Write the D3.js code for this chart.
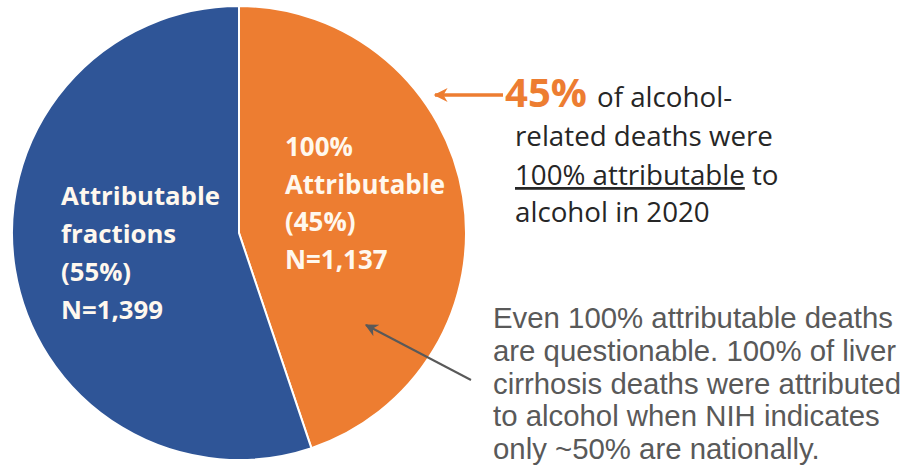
<!DOCTYPE html>
<html><head><meta charset="utf-8">
<script src="https://cdn.jsdelivr.net/npm/d3@7"></script>
<style>body{margin:0;background:#fff}svg{display:block}</style>
</head><body>
<svg id="c" width="901" height="471"></svg>
<script>
const categories = ["100% Attributable", "Attributable fractions"];
const counts = [1137, 1399];
const percents = [45, 55];
const colors = ["#ED7D31", "#2F5597"];
const sliceLabels = [
  ["100%", "Attributable", "(45%)", "N=1,137"],
  ["Attributable", "fractions", "(55%)", "N=1,399"]
];
const calloutLines = ["of alcohol-", "related deaths were", "100% attributable", "alcohol in 2020"];
const noteLines = [
  "Even 100% attributable deaths",
  "are questionable. 100% of liver",
  "cirrhosis deaths were attributed",
  "to alcohol when NIH indicates",
  "only ~50% are nationally."
];

const svg = d3.select("#c");
const CAL = "'Open Sans', Lato, sans-serif";
const ARIAL = "'Liberation Sans', Arial, sans-serif";

// font size that makes `str` span `w` pixels
function fit(str, w, family, weight) {
  const p = svg.append("text").attr("font-family", family).attr("font-weight", weight)
    .attr("font-size", 100).text(str);
  const len = p.node().getComputedTextLength();
  p.remove();
  return 100 * w / len;
}

const cx = 239, cy = 233, R = 227;
const g = svg.append("g").attr("transform", `translate(${cx},${cy})`);
const pie = d3.pie().sort(null).value(d => d);
const arc = d3.arc().innerRadius(0).outerRadius(R);
g.selectAll("path").data(pie(counts)).join("path")
  .attr("d", arc).attr("fill", (d, i) => colors[i])
  .attr("stroke", "#fff").attr("stroke-width", 2);

// slice labels
const labelPos = [{x: 285, y: 156, w: 160}, {x: 61, y: 205, w: 159}];
const lineH = [37.5, 38];
sliceLabels.forEach((lines, i) => {
  const fs = fit("Attributable", labelPos[i].w, CAL, "bold");
  const t = svg.append("text").attr("font-family", CAL)
    .attr("font-weight", "bold").attr("font-size", fs).attr("fill", "#FFF8EE");
  lines.forEach((l, j) => t.append("tspan").attr("x", labelPos[i].x)
    .attr("y", labelPos[i].y + j * lineH[i]).text(l));
});

// arrowheads
const defs = svg.append("defs");
function marker(id, color, w, h) {
  defs.append("marker").attr("id", id).attr("viewBox", "0 0 10 10")
    .attr("refX", 9).attr("refY", 5).attr("markerWidth", w).attr("markerHeight", h)
    .attr("orient", "auto").attr("markerUnits", "userSpaceOnUse")
    .append("path").attr("d", "M10,5 L0,0 L3,5 L0,10 Z").attr("fill", color);
}
marker("ao", "#ED7D31", 16, 14);
marker("ag", "#595959", 15, 13);

// orange callout arrow
svg.append("line").attr("x1", 503).attr("y1", 95).attr("x2", 435).attr("y2", 95)
  .attr("stroke", "#ED7D31").attr("stroke-width", 3.5).attr("marker-end", "url(#ao)");

// callout text
const cfs = fit(calloutLines[1], 258, CAL, "normal");
const pfs = fit(percents[0] + "%", 82, CAL, "bold");
const ct = svg.append("text").attr("font-family", CAL)
  .attr("font-size", cfs).attr("fill", "#262626");
const l0 = ct.append("tspan").attr("x", 505).attr("y", 107);
l0.append("tspan").attr("font-weight", "bold").attr("font-size", pfs).attr("fill", "#ED7D31").text(percents[0] + "%");
l0.append("tspan").attr("dx", 10).text(calloutLines[0]);
ct.append("tspan").attr("x", 515).attr("y", 146).text(calloutLines[1]);
const l2 = ct.append("tspan").attr("x", 515).attr("y", 185);
l2.append("tspan").attr("text-decoration", "underline").text(calloutLines[2]);
l2.append("tspan").text(" to");
ct.append("tspan").attr("x", 515).attr("y", 222).text(calloutLines[3]);

// gray note arrow
svg.append("line").attr("x1", 471).attr("y1", 380).attr("x2", 366).attr("y2", 325)
  .attr("stroke", "#595959").attr("stroke-width", 2).attr("marker-end", "url(#ag)");

const nfs = fit(noteLines[0], 400, ARIAL, "normal");
const nt = svg.append("text").attr("font-family", ARIAL)
  .attr("font-size", nfs).attr("fill", "#595959");
noteLines.forEach((l, j) => nt.append("tspan").attr("x", 493).attr("y", 328 + j * 32.75).text(l));
</script>
</body></html>
